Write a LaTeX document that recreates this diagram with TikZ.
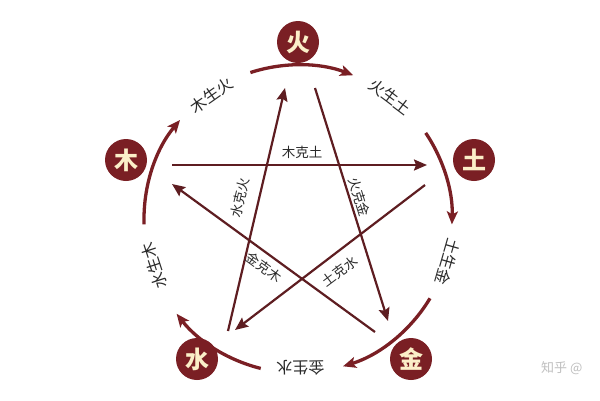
\documentclass[tikz,border=0pt]{standalone}
\usepackage{fontspec}
\newfontfamily\cjk{Noto Sans CJK SC}
\usetikzlibrary{arrows.meta}
\definecolor{maroon}{HTML}{7A1F24}
\definecolor{cream}{HTML}{FBEFC8}
\definecolor{linec}{HTML}{5E1D21}
\definecolor{txt}{HTML}{2A2A2A}
\begin{document}
\begin{tikzpicture}[x=1pt,y=1pt,
 elem/.style={circle,fill=maroon,minimum size=42pt,inner sep=0pt,text=cream,font=\cjk\bfseries\fontsize{24}{24}\selectfont},
 cyc/.style={draw=maroon,line width=3.3pt,-{Stealth[length=13pt,width=11pt,inset=3pt]}},
 ke/.style={draw=linec,line width=2.2pt,-{Stealth[length=13pt,width=11pt,inset=2pt]}},
 cyclab/.style={font=\cjk\fontsize{16}{16}\selectfont,text=txt,inner sep=0pt},
 kelab/.style={font=\cjk\fontsize{13.5}{14}\selectfont,text=txt,inner sep=0pt}]
\useasboundingbox (0,0) rectangle (600,-400);
\fill[white] (0,0) rectangle (600,-400);
\coordinate (c) at (298,-219);
% elements
\node[elem] (huo) at (298,-42) {火};
\node[elem] (tu) at (474,-160) {土};
\node[elem] (jin) at (411,-359) {金};
\node[elem] (shui) at (197,-359) {水};
\node[elem] (mu) at (126,-160) {木};
% generating cycle arcs
\coordinate (a1) at ([shift={(108:154)}]c);
\coordinate (a2) at ([shift={(34:154)}]c);
\coordinate (a3) at ([shift={(-31:154)}]c);
\coordinate (a4) at ([shift={(-104:154)}]c);
\coordinate (a5) at ([shift={(-178:154)}]c);
\draw[cyc] (a1) arc[start angle=108,end angle=69,radius=154];
\draw[cyc] (a2) arc[start angle=34,end angle=-2,radius=154];
\draw[cyc] (a3) arc[start angle=-31,end angle=-73,radius=154];
\draw[cyc] (a4) arc[start angle=-104,end angle=-142,radius=154];
\draw[cyc] (a5) arc[start angle=-178,end angle=-220,radius=154];
% cycle labels
\node[cyclab,rotate=35] (l1) at ([shift={(125:151)}]c) {木生火};
\node[cyclab,rotate=-37] (l2) at ([shift={(53:153)}]c) {火生土};
\node[cyclab,rotate=-106] (l3) at ([shift={(-16:156)}]c) {土生金};
\node[cyclab,rotate=-179] (l4) at ([shift={(-89:149)}]c) {金生水};
\node[cyclab,rotate=108] (l5) at ([shift={(198:151)}]c) {水生木};
% controlling star
\coordinate (muS) at (172,-165);
\coordinate (tuE) at (427,-165);
\coordinate (huoS) at (315,-88);
\coordinate (jinE) at (388,-321);
\coordinate (tuS) at (425,-185);
\coordinate (shuiE) at (235,-330);
\coordinate (shuiS) at (228,-331);
\coordinate (huoE) at (285,-88);
\coordinate (jinS) at (375,-332);
\coordinate (muE) at (172,-184);
\draw[ke] (muS) -- (tuE);
\draw[ke] (huoS) -- (jinE);
\draw[ke] (tuS) -- (shuiE);
\draw[ke] (shuiS) -- (huoE);
\draw[ke] (jinS) -- (muE);
% star labels
\node[kelab] (k1) at (302,-152) {木克土};
\node[kelab,rotate=-73] (k2) at (359,-197) {火克金};
\node[kelab,rotate=37] (k3) at (340,-271) {土克水};
\node[kelab,rotate=77] (k4) at (240,-198) {水克火};
\node[kelab,rotate=-36] (k5) at (264,-267) {金克木};
% watermark
\node[anchor=west,inner sep=0pt,text=gray!50,font=\cjk\fontsize{13}{13}\selectfont] (wm) at (541,-368) {知乎 @};
\end{tikzpicture}
\end{document}
